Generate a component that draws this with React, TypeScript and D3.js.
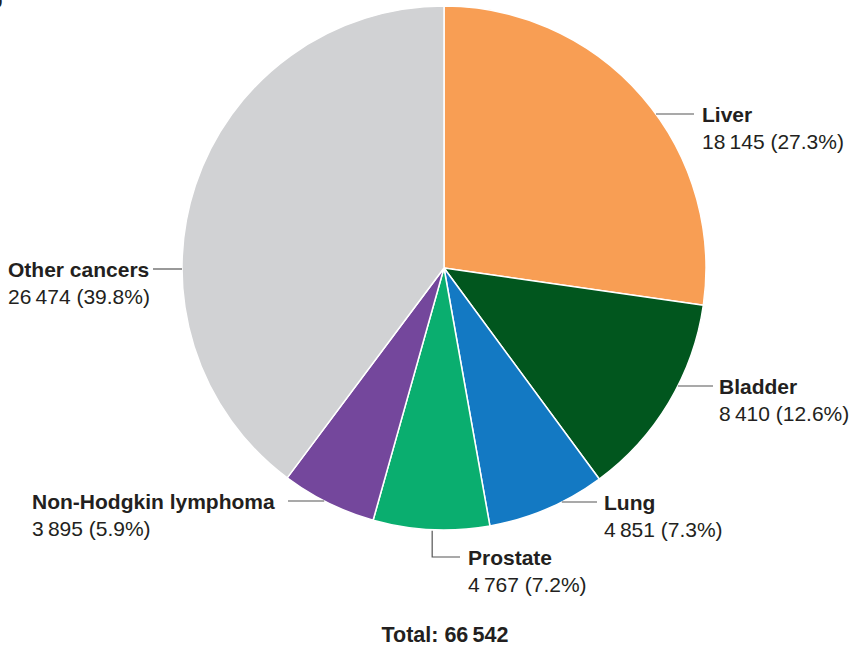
import React from "react";
import * as d3 from "d3";

// Cancer deaths by site (count and share of total)
const sites = ["Liver", "Bladder", "Lung", "Prostate", "Non-Hodgkin lymphoma", "Other cancers"];
const counts = [18145, 8410, 4851, 4767, 3895, 26474];
const shares = ["27.3", "12.6", "7.3", "7.2", "5.9", "39.8"];
const colors = ["#F89E54", "#01561E", "#1379C3", "#0AAE6F", "#74479C", "#D1D2D4"];
const total = 66542;

// Label placement: leader-line y, text anchor x, side of the pie
const labelLayout = [
  { y: 114, lineEnd: 694, textX: 702, side: "right" },
  { y: 386, lineEnd: 713, textX: 719, side: "right" },
  { y: 502, lineEnd: 597, textX: 604, side: "right" },
  { y: 0, lineEnd: 0, textX: 468, side: "bottom" },
  { y: 501, lineEnd: 288, textX: 32, side: "left" },
  { y: 269, lineEnd: 153, textX: 8, side: "left" },
];

const W = 855;
const H = 647;
const cx = 444;
const cy = 268;
const R = 262;

const fmt = (n: number) => {
  const s = String(n);
  return s.length > 3 ? s.slice(0, s.length - 3) + "\u2009" + s.slice(-3) : s;
};

export default function App() {
  const pie = d3.pie<number>().sort(null).value((d) => d);
  const arcs = pie(counts);
  const arc = d3.arc<d3.PieArcDatum<number>>().innerRadius(0).outerRadius(R);
  const font = "'Liberation Sans', Arial, Helvetica, sans-serif";
  const ink = "#231F20";
  const fs = 21;

  return (
    <svg
      width={W}
      height={H}
      style={{ position: "absolute", left: 0, top: 0, background: "#fff" }}
      fontFamily={font}
    >
      <text x={-12} y={8} fontSize={24} fontWeight="bold" fill={ink}>b</text>
      <g transform={`translate(${cx},${cy})`}>
        {arcs.map((a, i) => (
          <path key={sites[i]} d={arc(a) || ""} fill={colors[i]} stroke="#fff" strokeWidth={1.5} strokeLinejoin="round" />
        ))}
      </g>
      {arcs.map((a, i) => {
        const L = labelLayout[i];
        let line: React.ReactNode;
        const tx = L.textX;
        let ty: number;
        if (L.side === "bottom") {
          const mid = (a.startAngle + a.endAngle) / 2;
          const px = cx + R * Math.sin(mid) + 1;
          const py = cy - R * Math.cos(mid);
          const knee = 557;
          line = (
            <polyline
              points={`${px},${py + 1} ${px},${knee} ${tx - 8},${knee}`}
              fill="none"
              stroke="#555"
              strokeWidth={1.2}
            />
          );
          ty = knee + 8;
        } else {
          const dx = Math.sqrt(R * R - (L.y - cy) * (L.y - cy));
          const edge = L.side === "right" ? cx + dx : cx - dx;
          line = <line x1={edge} y1={L.y} x2={L.lineEnd} y2={L.y} stroke="#555" strokeWidth={1.2} />;
          ty = L.y + 8;
        }
        return (
          <g key={"lab" + i}>
            {line}
            <text x={tx} y={ty} fontSize={fs} fontWeight="bold" fill={ink}>
              {sites[i]}
            </text>
            <text x={tx} y={ty + 27} fontSize={fs} fill={ink}>
              {`${fmt(counts[i])} (${shares[i]}%)`}
            </text>
          </g>
        );
      })}
      <text x={445} y={642} fontSize={21.5} fontWeight="bold" textAnchor="middle" fill={ink}>
        {`Total: ${fmt(total)}`}
      </text>
    </svg>
  );
}
